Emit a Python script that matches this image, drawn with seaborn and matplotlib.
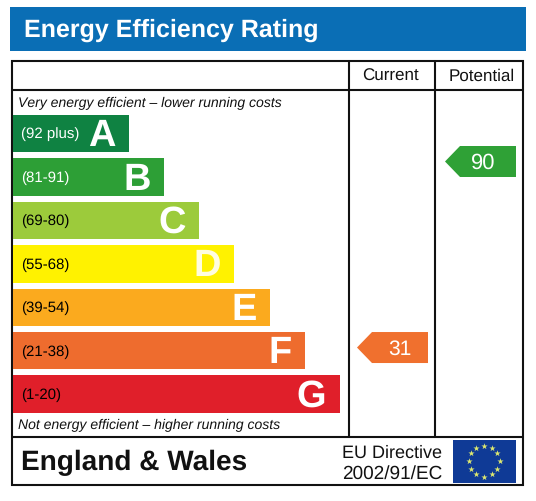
import numpy as np
import matplotlib
matplotlib.use("Agg")
import matplotlib.pyplot as plt
from matplotlib.patches import Rectangle, Polygon
import seaborn as sns

bands = ["A", "B", "C", "D", "E", "F", "G"]
ranges = ["(92 plus)", "(81-91)", "(69-80)", "(55-68)", "(39-54)", "(21-38)", "(1-20)"]
bar_lengths = [116, 151, 186, 221, 257, 292, 327]
band_colours = ["#0F8242", "#2D9F36", "#9CCB3B", "#FFF200", "#FBAA1E", "#EE6C2E", "#E01F2A"]
range_colours = ["white", "white", "black", "black", "black", "black", "black"]
current_score = 31
potential_score = 90
current_colour = "#F0702E"
potential_colour = "#2FA136"

W, H = 536, 502
sns.set_theme(style="white")
plt.rcParams["font.family"] = ["Liberation Sans", "DejaVu Sans"]
plt.rcParams["text.hinting"] = "none"
plt.rcParams["text.hinting_factor"] = 1
fig = plt.figure(figsize=(W / 100, H / 100), dpi=100, facecolor="white")
ax = fig.add_axes([0, 0, 1, 1])
ax.set_xlim(0, W)
ax.set_ylim(H, 0)
ax.axis("off")

# banner
ax.add_patch(Rectangle((10, 8), 515.5, 43.5, fc="#0A6EB5", ec="none"))
ax.text(24, 30, "Energy Efficiency Rating", color="white", fontsize=18.0, fontweight="bold", va="center", ha="left")

# frame
lw = 1.5
ax.add_patch(Rectangle((11.5, 61.5), 511.5, 424.5, fc="none", ec="#111111", lw=lw, zorder=5))
ax.plot([11.5, 523], [91, 91], color="#111111", lw=lw, zorder=5)
ax.plot([11.5, 523], [437.5, 437.5], color="#111111", lw=lw, zorder=5)
ax.plot([349, 349], [61.5, 437.5], color="#111111", lw=lw, zorder=5)
ax.plot([434.5, 434.5], [61.5, 437.5], color="#111111", lw=lw, zorder=5)

ax.text(390, 76.5, "Current", fontsize=12.6, ha="center", va="center", color="#111111")
ax.text(482, 76.5, "Potential", fontsize=12.6, ha="center", va="center", color="#111111")
ax.text(18, 103.5, "Very energy efficient \u2013 lower running costs", fontsize=10.1, style="italic", ha="left", va="center", color="#111111")
ax.text(18, 425.5, "Not energy efficient \u2013 higher running costs", fontsize=10.1, style="italic", ha="left", va="center", color="#111111")

# bars in an inset whose category axis lands on the band rows
left, step, top = 12.5, 43.45, 134.5 - 43.45 / 2
bar_ax = fig.add_axes([left / W, 1 - (top + 7 * step) / H, 336 / W, 7 * step / H])
bar_ax.patch.set_alpha(0)
sns.barplot(x=bar_lengths, y=bands, hue=bands, palette=band_colours, orient="h",
            width=0.862, saturation=1, legend=False, ax=bar_ax, dodge=False, linewidth=0)
bar_ax.set_xlim(0, 336)
bar_ax.set_ylim(6.5, -0.5)
bar_ax.axis("off")
for i, (b, r, n, c) in enumerate(zip(bands, ranges, bar_lengths, range_colours)):
    bar_ax.text(8.5, i, r, fontsize=10.6, color=c, va="center", ha="left")
    bar_ax.text(n - 13, i + 0.04, b, fontsize=27, fontweight="bold", color="white" if b != "D" else "#FFFDE0",
                va="center", ha="right")

# score arrows
def score_y(v):
    return 162.5 + (90 - v) * 3.153

def arrow(x_tip, x_right, score, colour, x_text, size):
    y = score_y(score)
    ax.add_patch(Polygon([(x_tip, y), (x_tip + 15, y - 15.5), (x_right, y - 15.5),
                          (x_right, y + 15.5), (x_tip + 15, y + 15.5)], closed=True, fc=colour, ec="none", zorder=3))
    ax.text(x_text, y + 0.5, str(score), color="white", fontsize=size, ha="center", va="center", zorder=4)

arrow(357, 428, current_score, current_colour, 400, 15)
arrow(445, 516, potential_score, potential_colour, 483, 16)

# footer
ax.text(21, 462.5, "England & Wales", fontsize=20.3, fontweight="bold", color="#111111", ha="left", va="center")
ax.text(342.5, 453.5, "EU Directive", fontsize=13, color="#111111", ha="left", va="center")
ax.text(342, 473.5, "2002/91/EC", fontsize=13.9, color="#111111", ha="left", va="center")

# EU flag
ax.add_patch(Rectangle((452.5, 441), 63.5, 42.5, fc="#0F3A96", ec="none", zorder=3))
ang = np.deg2rad(np.arange(0, 360, 30))
ax.scatter(484 + 15.5 * np.cos(ang), 462 + 15.5 * np.sin(ang), marker="*", s=22, c="#DDE870", linewidths=0, zorder=4)

fig.savefig("out.png", dpi=100, facecolor="white")
